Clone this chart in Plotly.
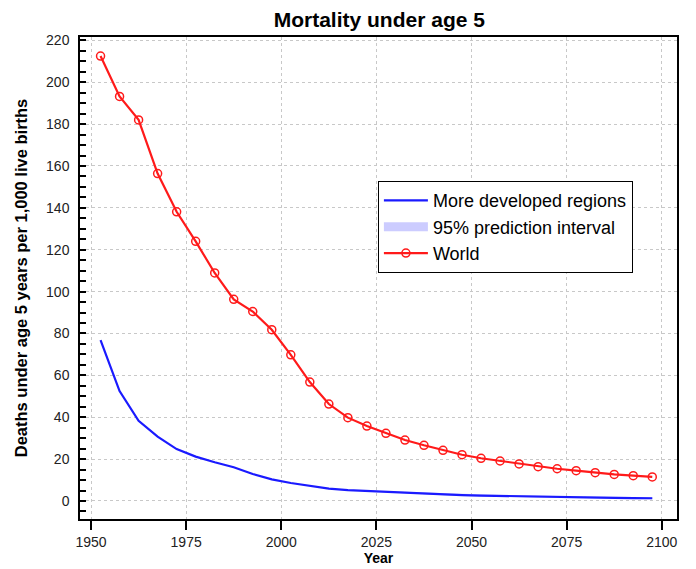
import plotly.graph_objects as go

years = [1952.5 + 5 * i for i in range(30)]

world = [212.5, 193.2, 182.0, 156.4, 138.1, 124.0, 108.9, 96.3, 90.5, 81.8,
         69.8, 56.8, 46.3, 39.8, 35.8, 32.3, 29.1, 26.6, 24.2, 22.1,
         20.4, 19.1, 17.7, 16.4, 15.4, 14.5, 13.5, 12.7, 12.1, 11.5]

developed = [76.8, 52.5, 38.3, 30.7, 24.8, 21.2, 18.5, 16.1, 12.9, 10.3,
             8.6, 7.2, 5.9, 5.2, 4.8, 4.3, 3.8, 3.4, 3.1, 2.8,
             2.6, 2.4, 2.2, 2.0, 1.9, 1.7, 1.6, 1.5, 1.4, 1.3]

pi_years = years[13:]
pi_lower = [5.1, 4.6, 4.0, 3.5, 3.0, 2.7, 2.4, 2.1, 1.9, 1.7, 1.5, 1.4, 1.2, 1.1, 1.0, 0.9, 0.8]
pi_upper = [5.3, 5.0, 4.6, 4.1, 3.8, 3.5, 3.2, 3.0, 2.8, 2.6, 2.5, 2.3, 2.2, 2.1, 2.0, 1.9, 1.8]

xticks = [1950, 1975, 2000, 2025, 2050, 2075, 2100]
yticks = list(range(0, 221, 20))

fig = go.Figure()

fig.add_trace(go.Scatter(x=pi_years, y=pi_upper, mode="lines", line=dict(width=0),
                         showlegend=False, hoverinfo="skip"))
fig.add_trace(go.Scatter(x=pi_years, y=pi_lower, mode="lines", line=dict(width=0),
                         fill="tonexty", fillcolor="rgba(190,190,255,0.8)",
                         showlegend=False, hoverinfo="skip"))

fig.add_trace(go.Scatter(x=years, y=developed, mode="lines", name="More developed regions",
                         line=dict(color="#1a1aff", width=2.2)))
fig.add_trace(go.Scatter(x=[None], y=[None], mode="lines", name="95% prediction interval",
                         line=dict(color="#ccccff", width=9)))
fig.add_trace(go.Scatter(x=years, y=world, mode="lines+markers", name="World",
                         line=dict(color="#ff1a1a", width=2.2),
                         marker=dict(symbol="circle-open", size=8, color="#ff1a1a",
                                     line=dict(width=1.5))))

fig.update_layout(
    width=696, height=569,
    margin=dict(l=80, r=19, t=37, b=50),
    paper_bgcolor="white", plot_bgcolor="white",
    font=dict(family="Liberation Sans, Arial, sans-serif", color="#222", size=14),
    title=dict(text="<b>Mortality under age 5</b>", x=0.545, xanchor="center",
               y=0.965, yanchor="middle", font=dict(size=21, color="black")),
    legend=dict(x=0.499, y=0.701, xanchor="left", yanchor="top",
                bordercolor="black", borderwidth=1, bgcolor="white",
                font=dict(size=18, color="black"), tracegroupgap=0,
                traceorder="normal", itemwidth=44),
    showlegend=True,
)

fig.update_xaxes(range=[1947.1, 2104], tickvals=xticks, ticks="outside", ticklen=9,
                 tickwidth=1.5, tickcolor="black", automargin=False,
                 showline=True, linecolor="black", linewidth=1.5, mirror=True,
                 showgrid=True, gridcolor="#c8c8c8", griddash="dot", gridwidth=1,
                 zeroline=False,
                 title=dict(text="<b>Year</b>", font=dict(size=14, color="black"), standoff=2),
                 tickfont=dict(size=14))
fig.update_yaxes(range=[-8.6, 221.6], tickvals=yticks, ticks="inside", ticklen=6,
                 tickwidth=1.5, tickcolor="black", automargin=False,
                 ticklabelstandoff=6,
                 minor=dict(dtick=5, tick0=0, ticks="inside", ticklen=6, tickcolor="black",
                            showgrid=False),
                 showline=True, linecolor="black", linewidth=1.5, mirror=True,
                 showgrid=True, gridcolor="#c8c8c8", griddash="dot", gridwidth=1,
                 zeroline=False,
                 title=dict(text="<b>Deaths under age 5 years per 1,000 live births</b>",
                            font=dict(size=16.5, color="black"), standoff=14),
                 tickfont=dict(size=14))

fig.write_html("out.html", config={"displayModeBar": False},
               post_script="document.body.style.margin='0';document.body.style.overflow='hidden';")
